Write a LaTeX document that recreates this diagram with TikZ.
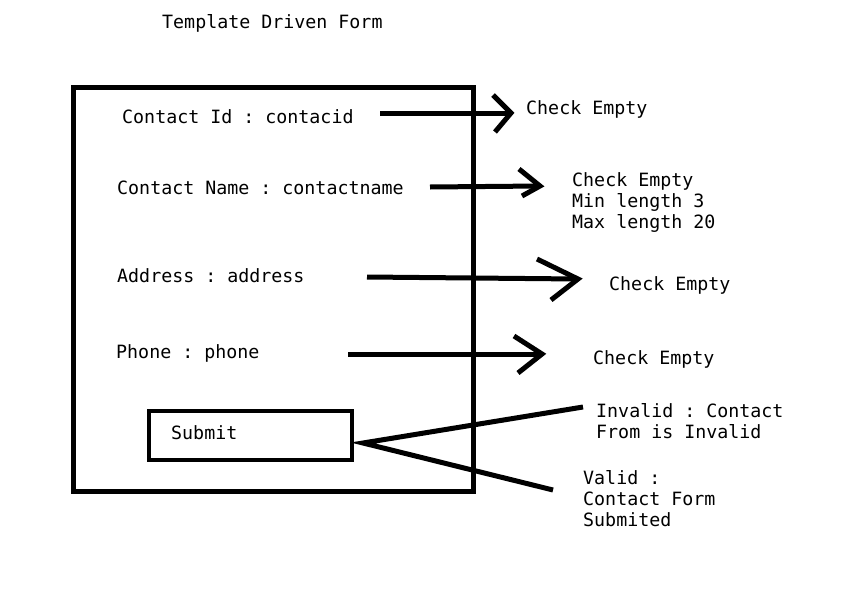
\documentclass[tikz,border=0pt]{standalone}
\usepackage{fontspec}
\setmonofont{DejaVu Sans Mono}
\usetikzlibrary{calc}
\begin{document}
\begin{tikzpicture}[x=1pt,y=-1pt,
  txt/.style={anchor=base west,inner sep=0pt,font=\ttfamily\fontsize{18.3}{21}\selectfont,align=left},
  frame/.style={draw,line width=5pt,line join=miter},
  conn/.style={draw,line width=5pt,line cap=butt,line join=miter}]
\useasboundingbox (0,0) rectangle (865,608);
\fill[white] (0,0) rectangle (865,608);
% title
\node[txt] (title) at (162,28) {Template Driven Form};
% form frame
\coordinate (fa) at (73,87);
\coordinate (fb) at (473,491);
\draw[frame] (fa) rectangle (fb);
% fields
\node[txt] (f1) at (122,123) {Contact Id : contacid};
\node[txt] (f2) at (117,194) {Contact Name : contactname};
\node[txt] (f3) at (117,282) {Address : address};
\node[txt] (f4) at (116,358) {Phone : phone};
% submit
\coordinate (sa) at (149,411);
\coordinate (sb) at (352,460);
\draw[line width=4pt,line join=miter] (sa) rectangle (sb);
\node[txt] (sub) at (171,439) {Submit};
% validation texts (multi-line nodes are placed at the baseline of their last line)
\node[txt] (v1) at (526,114) {Check Empty};
\node[txt] (v2) at (572,228) {Check Empty\\Min length 3\\Max length 20};
\node[txt] (v3) at (609,290) {Check Empty};
\node[txt] (v4) at (593,364) {Check Empty};
\node[txt] (v5) at (596,438) {Invalid : Contact\\From is Invalid};
\node[txt] (v6) at (583,526) {Valid :\\Contact Form\\Submited};
% arrows
\coordinate (a1s) at (380,113); \coordinate (a1t) at (511,113);
\draw[conn] (a1s) -- (a1t);
\draw[conn] ($(a1t)+(-18,-18)$) -- (a1t) -- ($(a1t)+(-16,19)$);
\coordinate (a2s) at (430,187); \coordinate (a2t) at (540,186);
\draw[conn] (a2s) -- (a2t);
\draw[conn] ($(a2t)+(-21,-17)$) -- (a2t) -- ($(a2t)+(-18,10)$);
\coordinate (a3s) at (367,277); \coordinate (a3t) at (578,279);
\draw[conn] (a3s) -- (a3t);
\draw[conn] ($(a3t)+(-41,-20)$) -- (a3t) -- ($(a3t)+(-27,21)$);
\coordinate (a4s) at (348,354); \coordinate (a4t) at (542,354);
\draw[conn] (a4s) -- (a4t);
\draw[conn] ($(a4t)+(-28,-18)$) -- (a4t) -- ($(a4t)+(-24,19)$);
% submit result lines
\coordinate (apex) at (363,443);
\coordinate (inv) at (583,407);
\coordinate (val) at (553,490);
\draw[conn] (inv) -- (apex) -- (val);
\end{tikzpicture}
\end{document}
